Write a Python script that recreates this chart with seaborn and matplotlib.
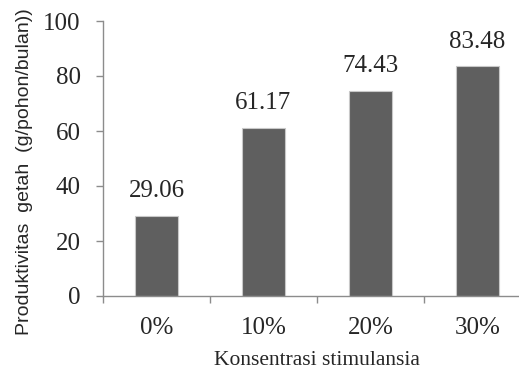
import pandas as pd
import matplotlib.pyplot as plt
import seaborn as sns
from matplotlib.ticker import FixedLocator

konsentrasi = ["0%", "10%", "20%", "30%"]
produktivitas = [29.06, 61.17, 74.43, 83.48]
yticks = [0, 20, 40, 60, 80, 100]

sns.set_style("white")
plt.rcParams["font.family"] = ["Liberation Serif", "DejaVu Serif"]

data = pd.DataFrame({"Konsentrasi": konsentrasi, "Produktivitas": produktivitas})

fig = plt.figure(figsize=(5.19, 3.71), dpi=100)
ax = fig.add_axes([103 / 519, 75 / 371, 428 / 519, 275 / 371])

sns.barplot(data=data, x="Konsentrasi", y="Produktivitas", color="#5f5f5f",
            saturation=1, width=0.4, edgecolor="#c8c8c8", linewidth=0.8, ax=ax)

for i, v in enumerate(produktivitas):
    ax.annotate(f"{v:.2f}", (i, v), xytext=(0, 10), textcoords="offset points",
                ha="center", va="bottom", fontsize=18)

ax.set_xlim(-0.5, 3.5)
ax.set_ylim(0, 100)
ax.set_yticks(yticks)
ax.tick_params(axis="y", labelsize=18, length=5, width=1, color="#8c8c8c",
               direction="out", pad=11, left=True)
ax.tick_params(axis="x", which="major", labelsize=18, length=0, pad=15)
ax.xaxis.set_minor_locator(FixedLocator([-0.5, 0.5, 1.5, 2.5, 3.5]))
ax.tick_params(axis="x", which="minor", length=5, width=1, color="#8c8c8c",
               direction="out", bottom=True)

sns.despine(ax=ax)
for s in ["left", "bottom"]:
    ax.spines[s].set_color("#8c8c8c")
    ax.spines[s].set_linewidth(1)

ax.set_xlabel("Konsentrasi stimulansia", fontsize=15.5, labelpad=9)
ax.set_ylabel("Produktivitas  getah  (g/pohon/bulan))", fontsize=14,
              family=["Liberation Sans", "DejaVu Sans"])
ax.yaxis.set_label_coords(-70 / 428, 0.453)

fig.savefig("out.png", dpi=100)
